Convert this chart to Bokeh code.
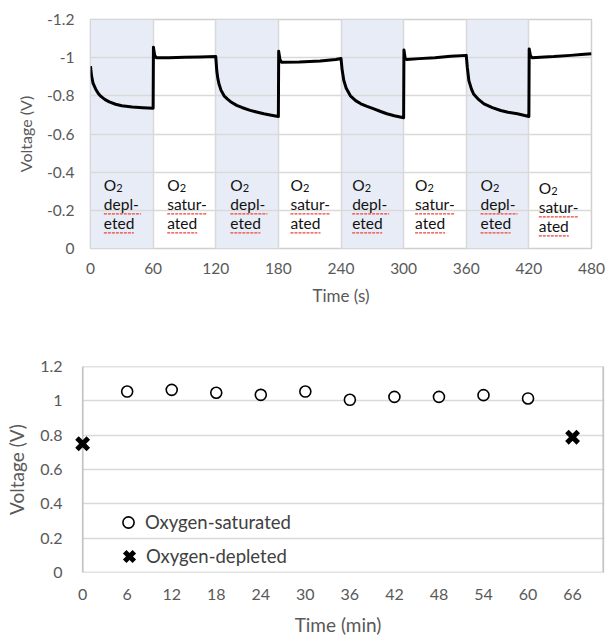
from bokeh.plotting import figure
from bokeh.models import Range1d, FixedTicker, BoxAnnotation, Legend, LegendItem, ColumnDataSource, Span
from bokeh.core.properties import value
from bokeh.embed import file_html
from bokeh.resources import INLINE

# ---------------- data: top chart (voltage trace) ----------------
time_s = [0, 1, 2.5, 5, 7.5, 10, 14, 18, 24, 30, 40, 50, 60,
          60.3, 61.5, 63, 75, 90, 105, 120,
          121, 122, 123, 125, 128, 131, 135, 140, 145, 153, 160, 166, 172, 180,
          180.3, 181.5, 183, 200, 220, 235, 240,
          241, 242.7, 245, 249, 254, 259, 265, 271.5, 278, 284, 291, 300,
          300.3, 301.5, 303, 315, 330, 345, 360,
          361, 362.5, 365, 367, 372, 377, 385, 393, 400, 409, 420,
          420.3, 421.5, 423, 435, 444, 460, 470, 480]
voltage_v = [-0.955, -0.905, -0.865, -0.835, -0.812, -0.797, -0.78, -0.768, -0.756, -0.748, -0.742, -0.738, -0.735,
             -1.055, -1.012, -1.0, -1.0, -1.002, -1.004, -1.006,
             -0.93, -0.89, -0.865, -0.83, -0.80, -0.784, -0.766, -0.75, -0.739, -0.724, -0.714, -0.706, -0.70, -0.692,
             -1.033, -0.99, -0.976, -0.977, -0.982, -0.99, -0.996,
             -0.94, -0.88, -0.84, -0.80, -0.775, -0.758, -0.745, -0.732, -0.718, -0.706, -0.696, -0.685,
             -1.04, -0.995, -0.99, -0.995, -1.0, -1.007, -1.012,
             -0.95, -0.88, -0.835, -0.81, -0.78, -0.758, -0.738, -0.723, -0.714, -0.706, -0.692,
             -1.046, -1.01, -1.0, -1.004, -1.006, -1.012, -1.016, -1.02]

band_start = [0, 120, 240, 360]
band_end = [60, 180, 300, 420]

label_x = [12.8, 73.5, 134, 191.6, 250.7, 311, 373.7, 429.5]
label_line2 = ["depl-", "satur-", "depl-", "satur-", "depl-", "satur-", "depl-", "satur-"]
label_line3 = ["eted", "ated", "eted", "ated", "eted", "ated", "eted", "ated"]
label_shift_px = [0, 0, 0, 0, 0, 0, 0, 3]

top_x_ticks = [0, 60, 120, 180, 240, 300, 360, 420, 480]
top_x_labels = ["0", "60", "120", "180", "240", "300", "360", "420", "480"]
top_y_ticks = [0, -0.2, -0.4, -0.6, -0.8, -1.0, -1.2]
top_y_labels = ["0", "-0.2", "-0.4", "-0.6", "-0.8", "-1", "-1.2"]

# ---------------- data: bottom chart ----------------
sat_time_min = [6, 12, 18, 24, 30, 36, 42, 48, 54, 60]
sat_voltage = [1.054, 1.064, 1.047, 1.035, 1.054, 1.006, 1.023, 1.023, 1.033, 1.014]
dep_time_min = [0, 66]
dep_voltage = [0.75, 0.788]

bot_x_ticks = [0, 6, 12, 18, 24, 30, 36, 42, 48, 54, 60, 66]
bot_x_labels = [str(t) for t in bot_x_ticks]
bot_y_ticks = [0, 0.2, 0.4, 0.6, 0.8, 1.0, 1.2]
bot_y_labels = ["0", "0.2", "0.4", "0.6", "0.8", "1", "1.2"]

FONT = "Lato"
TICK_COLOR = "#595959"


def style_axis(ax, tick_size, label_size, label_standoff, axis_label_standoff):
    ax.axis_line_color = None
    ax.major_tick_line_color = None
    ax.minor_tick_line_color = None
    ax.major_tick_out = 0
    ax.major_tick_in = 0
    ax.major_label_text_font = FONT
    ax.major_label_text_font_size = tick_size
    ax.major_label_text_color = TICK_COLOR
    ax.major_label_standoff = label_standoff
    ax.axis_label_text_font = FONT
    ax.axis_label_text_font_style = "normal"
    ax.axis_label_text_font_size = label_size
    ax.axis_label_text_color = TICK_COLOR
    ax.axis_label_standoff = axis_label_standoff


# ================= top figure =================
p1 = figure(width=605, height=318, output_backend="svg", toolbar_location=None,
            x_range=Range1d(0, 480), y_range=Range1d(0, -1.2),
            min_border_left=90, min_border_right=14, min_border_top=19, min_border_bottom=70)
p1.outline_line_color = "#cfcfcf"
p1.outline_line_width = 1.5
p1.background_fill_color = "white"

p1.xaxis.ticker = FixedTicker(ticks=top_x_ticks)
p1.xaxis.major_label_overrides = dict(zip(top_x_ticks, top_x_labels))
p1.yaxis.ticker = FixedTicker(ticks=top_y_ticks)
p1.yaxis.major_label_overrides = dict(zip(top_y_ticks, top_y_labels))
p1.xaxis.axis_label = "Time (s)"
p1.yaxis.axis_label = "Voltage (V)"
style_axis(p1.xaxis[0], "15.5px", "17px", 14, 8)
style_axis(p1.yaxis[0], "15.5px", "16px", 16, 9)
p1.xgrid.grid_line_color = "#d9d9d9"
p1.ygrid.grid_line_color = "#d9d9d9"
p1.xgrid.grid_line_width = 1.5
p1.ygrid.grid_line_width = 1.5

for a, b in zip(band_start, band_end):
    p1.add_layout(BoxAnnotation(left=a, right=b, fill_color="#e8ecf6", fill_alpha=1.0,
                                line_color=None, level="image"))

p1.line(time_s, voltage_v, line_color="black", line_width=3, line_join="round")

# text labels in the bands
px_per_s = 501 / 480.0
v_per_px = 1.2 / 229.0
row1, row2, row3 = -0.30, -0.20, -0.10       # intended baselines
text_lift = 6.5 * v_per_px                    # correction for the text box placement
lab = ColumnDataSource(dict(
    x=label_x,
    l2=label_line2,
    l3=label_line3,
    o=["O"] * len(label_x),
    two=["2"] * len(label_x),
    dy=label_shift_px,
    dy2=[d + 3 for d in label_shift_px],
))

# red spell-check underlines under the hyphenated words (drawn first, below the text)
u_x0, u_x1, u_y = [], [], []
for x, w2, dy in zip(label_x, label_line2, label_shift_px):
    wid2 = 37 if w2 == "depl-" else 40
    wid3 = 30
    for row, wid in ((row2, wid2), (row3, wid3)):
        u_x0.append(x)
        u_x1.append(x + wid / px_per_s)
        u_y.append(row + (3.5 + dy) * v_per_px)
p1.segment(x0=u_x0, y0=u_y, x1=u_x1, y1=u_y, line_color="#e8453c", line_width=1.4, line_dash="3 1")

common = dict(text_font=value(FONT), text_color="#111111", text_baseline="alphabetic", text_align="left")
p1.text(x="x", y=row1 - text_lift, text="o", source=lab, text_font_size="15.5px", y_offset="dy", **common)
p1.text(x="x", y=row1 - text_lift, text="two", source=lab, text_font_size="11px", x_offset=12.5,
        y_offset="dy2", **common)
p1.text(x="x", y=row2 - text_lift, text="l2", source=lab, text_font_size="15.5px", y_offset="dy", **common)
p1.text(x="x", y=row3 - text_lift, text="l3", source=lab, text_font_size="15.5px", y_offset="dy", **common)

# ================= bottom figure =================
x_start, x_end = -1.5, 70.3
y_lo, y_hi = 0, 1.2
p2 = figure(width=605, height=320, output_backend="svg", toolbar_location=None,
            x_range=Range1d(x_start, x_end), y_range=Range1d(y_lo, y_hi),
            min_border_left=71, min_border_right=1, min_border_top=48, min_border_bottom=66)
p2.outline_line_color = None
p2.xaxis.ticker = FixedTicker(ticks=bot_x_ticks)
p2.xaxis.major_label_overrides = dict(zip(bot_x_ticks, bot_x_labels))
p2.yaxis.ticker = FixedTicker(ticks=bot_y_ticks)
p2.yaxis.major_label_overrides = dict(zip(bot_y_ticks, bot_y_labels))
p2.xaxis.axis_label = "Time (min)"
p2.yaxis.axis_label = "Voltage (V)"
style_axis(p2.xaxis[0], "16px", "19px", 16, 10)
style_axis(p2.yaxis[0], "16px", "19px", 9, 9)
p2.xgrid.grid_line_color = None
p2.ygrid.grid_line_color = "#d9d9d9"
p2.ygrid.grid_line_width = 1.5

# white strip left of x=0 (grid starts at the plot border), then the border box
p2.quad(left=[x_start - 1], right=[0], bottom=[y_lo - 0.1], top=[y_hi + 0.1],
        fill_color="white", line_color=None)
p2.quad(left=[0], right=[x_end - 0.15], bottom=[y_lo], top=[y_hi],
        fill_alpha=0, line_color="#c4c4c4", line_width=1.5)
p2.add_layout(Span(location=0, dimension="height", line_color="#c4c4c4", line_width=1.5, level="underlay"))
p2.add_layout(Span(location=x_end - 0.15, dimension="height", line_color="#c4c4c4", line_width=1.5,
                   level="underlay"))

r_sat = p2.scatter(sat_time_min, sat_voltage, marker="circle", size=11, fill_color="white",
                   line_color="black", line_width=1.6)
r_dep = p2.scatter(dep_time_min, dep_voltage, marker="x", size=16, line_color="black", line_width=5)

leg_common = dict(padding=0, margin=0, border_line_color=None, background_fill_alpha=0,
                  label_text_font=FONT, label_text_font_size="18.5px", label_text_color="#404040")
legend1 = Legend(items=[LegendItem(label="Oxygen-saturated", renderers=[r_sat])],
                 location=(43, 36), glyph_height=28, glyph_width=28, label_height=28,
                 label_standoff=3, **leg_common)
legend2 = Legend(items=[LegendItem(label="Oxygen-depleted", renderers=[r_dep])],
                 location=(41, -1), glyph_height=34, glyph_width=34, label_height=34,
                 label_standoff=0, **leg_common)
p2.add_layout(legend1)
p2.add_layout(legend2)

open("out.html", "w").write(file_html([p1, p2], INLINE))
